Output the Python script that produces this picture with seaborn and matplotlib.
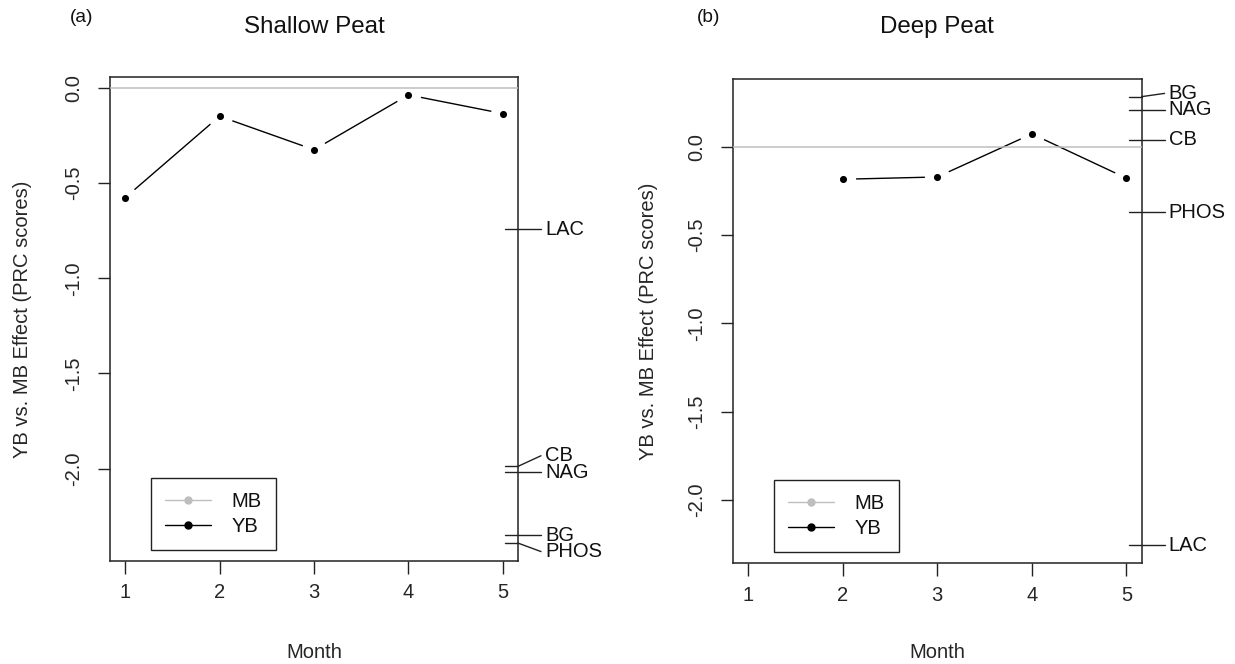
import numpy as np
import pandas as pd
import matplotlib
matplotlib.use("Agg")
import matplotlib.pyplot as plt
import matplotlib.transforms as mtransforms
from matplotlib.lines import Line2D
import seaborn as sns

# ---- data -------------------------------------------------------------
months = [1, 2, 3, 4, 5]

shallow_yb = [-0.577, -0.149, -0.325, -0.037, -0.135]
deep_yb = [np.nan, -0.183, -0.170, 0.074, -0.177]

shallow_enzymes = ["LAC", "CB", "NAG", "BG", "PHOS"]
shallow_scores = [-0.742, -1.988, -2.019, -2.349, -2.391]

deep_enzymes = ["BG", "NAG", "CB", "PHOS", "LAC"]
deep_scores = [0.285, 0.210, 0.040, -0.370, -2.257]

panel_titles = ["Shallow Peat", "Deep Peat"]
panel_tags = ["(a)", "(b)"]
y_ticks = [0.0, -0.5, -1.0, -1.5, -2.0]
legend_labels = ["MB", "YB"]

# ---- style ------------------------------------------------------------
sns.set_theme(style="white")
plt.rcParams["font.family"] = ["Liberation Sans", "DejaVu Sans"]
plt.rcParams["text.color"] = "#111111"
FS = 14.5

W, H = 1235, 664
fig = plt.figure(figsize=(W / 100, H / 100), dpi=100)

# axes rectangles in pixels: left, right, top, bottom
rects = [(110, 518, 77, 561), (733, 1141.6, 78.7, 563.3)]
ylabel_x = [23, 648]
legend_xy = [(151, 478), (774, 480)]
tag_x = [82, 709]


def r_range(values):
    """Axis range with R's 4% padding."""
    v = np.asarray(values, float)
    v = v[~np.isnan(v)]
    lo, hi = v.min(), v.max()
    pad = 0.04 * (hi - lo)
    return lo - pad, hi + pad


def stack_positions(scores, ht):
    """Spread labels outward from the middle one so they keep a minimum gap."""
    scores = np.asarray(scores, float)
    order = np.argsort(scores)
    xs = scores[order]
    n = len(xs)
    pos = np.zeros(n)
    mid = (n + 1) // 2 - 1
    pos[mid] = xs[mid]
    for i in range(mid + 1, n):
        pos[i] = max(xs[i], pos[i - 1] + ht)
    for i in range(mid - 1, -1, -1):
        pos[i] = min(xs[i], pos[i + 1] - ht)
    out = np.empty(n)
    out[order] = pos
    return out


panels = [
    (shallow_yb, shallow_enzymes, shallow_scores),
    (deep_yb, deep_enzymes, deep_scores),
]

for k, ((yb, names, scores), (x0, x1, yt, yb_px)) in enumerate(zip(panels, rects)):
    ax_w = x1 - x0
    ax_h = yb_px - yt
    ax = fig.add_axes([x0 / W, (H - yb_px) / H, ax_w / W, ax_h / H])
    df = pd.DataFrame({"Month": months, "score": yb}).dropna()

    # connecting line, broken around each point
    sns.lineplot(data=df, x="Month", y="score", ax=ax, color="black",
                 linewidth=1.0, zorder=2)
    sns.scatterplot(data=df, x="Month", y="score", ax=ax, color="white",
                    s=330, linewidth=0, zorder=3)
    ax.axhline(0, color="#bebebe", linewidth=1.1, zorder=3.5)
    sns.scatterplot(data=df, x="Month", y="score", ax=ax, color="black",
                    s=26, linewidth=0, zorder=4)

    ylo, yhi = r_range(list(yb) + list(scores))
    ax.set_xlim(0.84, 5.16)
    ax.set_ylim(ylo, yhi)

    ax.set_xticks(months)
    ax.set_xticklabels([str(m) for m in months], fontsize=FS)
    ax.set_yticks(y_ticks)
    ax.set_yticklabels([f"{v:.1f}" for v in y_ticks], fontsize=FS,
                       rotation=90, va="center")
    ax.tick_params(axis="both", which="both", direction="out", length=9,
                   width=1.0, color="#222222", left=True, bottom=True,
                   right=False, top=False)
    ax.tick_params(axis="y", pad=10)
    ax.tick_params(axis="x", pad=7)

    for sp in ax.spines.values():
        sp.set_visible(True)
        sp.set_color("#222222")
        sp.set_linewidth(1.1)

    ax.set_xlabel("Month", fontsize=FS)
    ax.xaxis.set_label_coords(0.5, -(652 - yb_px) / ax_h)
    ax.xaxis.label.set_va("center")
    ax.set_ylabel("YB vs. MB Effect (PRC scores)", fontsize=FS)
    ax.yaxis.set_label_coords(-(x0 - ylabel_x[k]) / ax_w, 0.5)
    ax.yaxis.label.set_va("center")

    ax.text(0.5, 1 + (yt - 27) / ax_h, panel_titles[k], transform=ax.transAxes,
            ha="center", va="center", fontsize=FS * 1.2)

    # enzyme scores on the right-hand side
    ht = 16.5 * (yhi - ylo) / ax_h
    lab_pos = stack_positions(scores, ht)
    tr = mtransforms.blended_transform_factory(ax.transAxes, ax.transData)
    for name, s, p in zip(names, scores, lab_pos):
        ax.plot([1 - 13 / ax_w, 1], [s, s], transform=tr, color="#222222",
                linewidth=1.0, clip_on=False, zorder=5)
        ax.plot([1, 1 + 23 / ax_w], [s, p], transform=tr, color="#222222",
                linewidth=1.0, clip_on=False, zorder=5)
        ax.text(1 + 27 / ax_w, p, name, transform=tr, ha="left", va="center",
                fontsize=FS)

    # legend
    handles = [
        Line2D([], [], color="#bebebe", marker="o", markersize=5, linewidth=1.0),
        Line2D([], [], color="black", marker="o", markersize=5, linewidth=1.0),
    ]
    lx, ly = legend_xy[k]
    leg = ax.legend(handles, legend_labels, loc="upper left",
                    bbox_to_anchor=((lx - x0) / ax_w, 1 - (ly - yt) / ax_h),
                    fontsize=FS, frameon=True, fancybox=False, framealpha=1,
                    edgecolor="#222222", handlelength=2.3, handletextpad=1.0,
                    labelspacing=0.3, borderpad=0.7, borderaxespad=0)
    leg.get_frame().set_linewidth(1.0)

    fig.text(tag_x[k] / W, 1 - 18 / H, panel_tags[k],
             ha="center", va="center", fontsize=FS * 0.95)

fig.savefig("out.png", dpi=100)
